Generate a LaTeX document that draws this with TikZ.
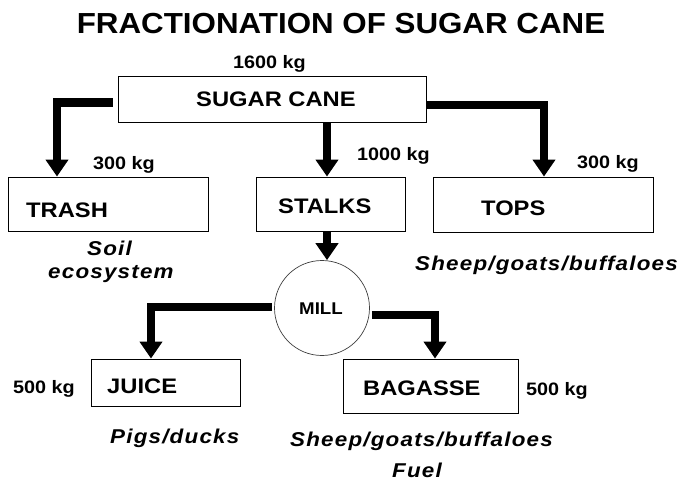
\documentclass[tikz,border=0pt]{standalone}
\usepackage{fontspec}
\setmainfont{Liberation Sans}
\newfontfamily\myftitle[FakeStretch=1.08]{Liberation Sans}
\newfontfamily\myfbox[FakeStretch=1.13]{Liberation Sans}
\newfontfamily\myfnum[FakeStretch=1.1]{Liberation Sans}
\newfontfamily\myfuse[FakeStretch=1.12,LetterSpace=6]{Liberation Sans}
\usetikzlibrary{arrows.meta}
\begin{document}
\begin{tikzpicture}[x=1pt,y=-1pt,
  box/.style={draw=black,line width=0.9pt,rectangle,inner sep=0pt},
  millshape/.style={draw=black!75,line width=0.7pt,circle,inner sep=0pt,minimum size=95pt},
  flow/.style={line width=8.5pt,line join=miter,line cap=butt,-{Triangle[width=22pt,length=17pt]}},
  ttl/.style={font=\myftitle\bfseries\fontsize{29}{35}\selectfont,inner sep=0pt,anchor=base},
  lab/.style={font=\myfbox\bfseries\fontsize{21}{25}\selectfont,inner sep=0pt,anchor=base west},
  num/.style={font=\myfnum\bfseries\fontsize{18}{22}\selectfont,inner sep=0pt,anchor=base west},
  use/.style={font=\myfuse\bfseries\itshape\fontsize{20}{24}\selectfont,inner sep=0pt,anchor=base west},
  millt/.style={font=\myfnum\bfseries\fontsize{17}{20}\selectfont,inner sep=0pt,anchor=base west}]
\useasboundingbox (0,0) rectangle (677,482);
\fill[white] (0,0) rectangle (677,482);
% title
\node[ttl] (title) at (341,33) {FRACTIONATION OF SUGAR CANE};
% boxes
\node[box,minimum width=308pt,minimum height=46pt] (sugar) at (272,99) {};
\node[box,minimum width=200pt,minimum height=54pt] (trash) at (108,204) {};
\node[box,minimum width=149pt,minimum height=54pt] (stalks) at (330.5,204) {};
\node[box,minimum width=220pt,minimum height=55pt] (tops) at (543,204.5) {};
\node[millshape] (mill) at (322,308) {};
\node[box,minimum width=149pt,minimum height=47pt] (juice) at (165.5,382.5) {};
\node[box,minimum width=175pt,minimum height=54pt] (bagasse) at (430.5,386) {};
% box texts
\node[lab] (tsugar) at (196,106.5) {SUGAR CANE};
\node[lab] (ttrash) at (26,217) {TRASH};
\node[lab] (tstalks) at (278,213) {STALKS};
\node[lab] (ttops) at (481,215) {TOPS};
\node[millt] (tmill) at (299,314) {MILL};
\node[lab] (tjuice) at (107,393) {JUICE};
\node[lab] (tbagasse) at (363,395) {BAGASSE};
% quantities
\node[num] (q1600) at (233,68) {1600 kg};
\node[num] (q300a) at (93,169) {300 kg};
\node[num] (q1000) at (357,160) {1000 kg};
\node[num] (q300b) at (577,168) {300 kg};
\node[num] (q500a) at (13,393) {500 kg};
\node[num] (q500b) at (526,395) {500 kg};
% uses
\node[use] (usoil) at (87,255) {Soil};
\node[use] (ueco) at (48,278) {ecosystem};
\node[use] (utops) at (415,270) {Sheep/goats/buffaloes};
\node[use] (upigs) at (110,443) {Pigs/ducks};
\node[use] (ubag) at (290,446) {Sheep/goats/buffaloes};
\node[use] (ufuel) at (392,477) {Fuel};
% connector helper x positions
\coordinate (jL) at (57,0);
\coordinate (jM) at (327,0);
\coordinate (jR) at (544,0);
\coordinate (jJ) at (151,0);
\coordinate (jB) at (435,0);
% connectors
\draw[flow] ([xshift=-5pt,yshift=-3.5pt]sugar.west) -| (jL |- trash.north);
\draw[flow] (jM |- sugar.south) -- (jM |- stalks.north);
\draw[flow] ([yshift=-6pt]sugar.east) -| (jR |- tops.north);
\draw[flow] (jM |- stalks.south) -- (jM |- mill.north);
\draw[flow] ([xshift=-2pt,yshift=1pt]mill.west) -| (jJ |- juice.north);
\draw[flow] ([xshift=2pt,yshift=-7pt]mill.east) -| (jB |- bagasse.north);
\end{tikzpicture}
\end{document}
